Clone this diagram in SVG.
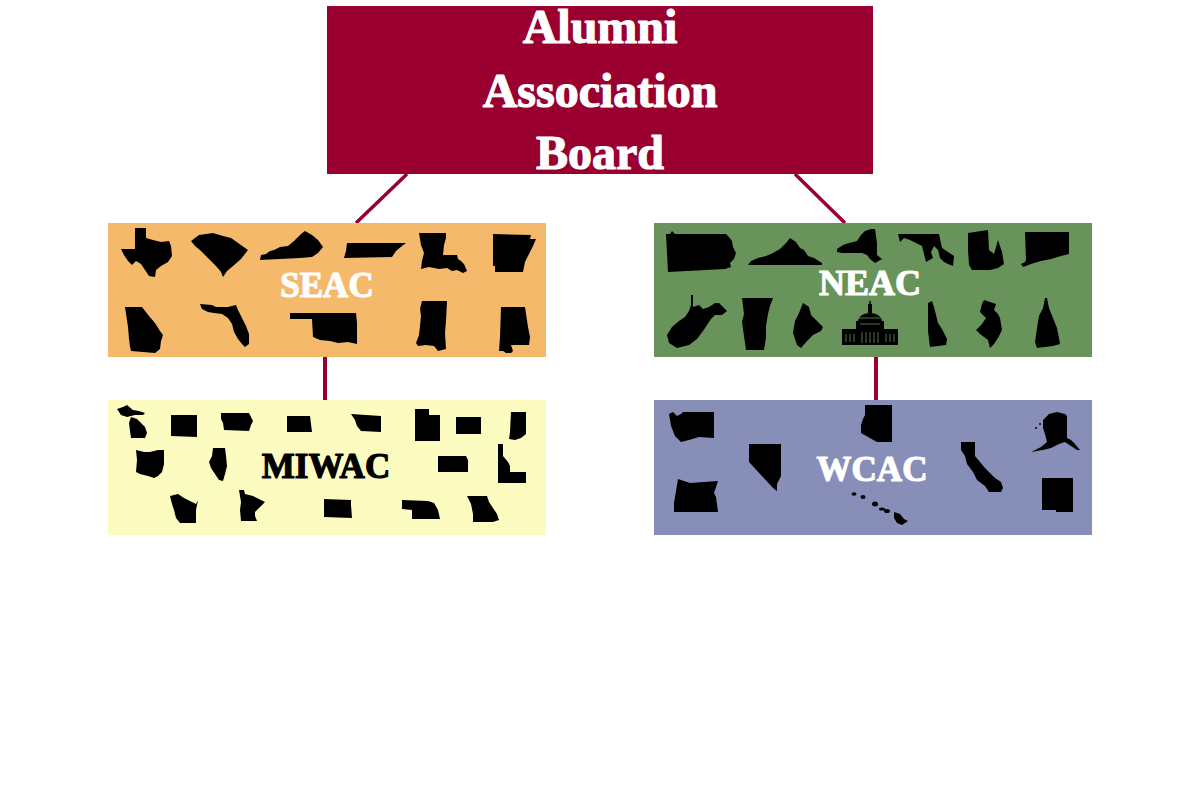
<svg xmlns="http://www.w3.org/2000/svg" width="1200" height="800" viewBox="0 0 1200 800">
<style>
.lbl{font-family:"Liberation Serif","Times New Roman",serif;font-weight:bold;text-anchor:middle;stroke-width:1.2;stroke-linejoin:round}
.w{fill:#ffffff;stroke:#ffffff}
.b{fill:#000000;stroke:#000000}
.st{fill:#000000}
.conn{stroke:#990030;fill:none}
</style>
<rect width="1200" height="800" fill="#ffffff"/>
<g id="connectors">
<line class="conn" x1="407" y1="174" x2="356" y2="223" stroke-width="3.5"/>
<line class="conn" x1="795" y1="174" x2="845" y2="223" stroke-width="3.5"/>
<line class="conn" x1="325" y1="357" x2="325" y2="400" stroke-width="4"/>
<line class="conn" x1="876" y1="357" x2="876" y2="400" stroke-width="4"/>
</g>
<g id="board">
<rect x="327" y="6" width="546" height="168" fill="#990030"/>
<text class="lbl w" x="600" y="43" font-size="48">Alumni</text>
<text class="lbl w" x="600" y="107" font-size="48">Association</text>
<text class="lbl w" x="600" y="169" font-size="48">Board</text>
</g>
<g id="seac">
<rect x="108" y="223" width="438" height="134" fill="#F4B96B"/>
<polygon class="st" transform="translate(121,228)" points="14,0 25,0 25,10 32,12 40,14 48,13 50,18 51,28 47,34 40,38 35,42 34,49 28,48 24,42 20,36 15,33 11,37 7,33 3,27 0,21 14,21"/>
<polygon class="st" transform="translate(191,233)" points="0,8 8,2 22,0 32,3 40,5 57,17 50,26 42,33 36,38 32,44 30,39 25,33 18,26 10,18 4,13"/>
<polygon class="st" transform="translate(260,231)" points="0,29 1,24 6,23 10,20 14,19 20,16 28,15 34,10 38,6 41,3 45,0 52,4 58,9 63,16 58,22 52,26 40,27 20,28"/>
<polygon class="st" transform="translate(344,243)" points="3,0 62,0 58,3 52,8 48,14 0,15 2,8"/>
<polygon class="st" transform="translate(419,233)" points="0,0 27,0 27,5 25,12 24,22 38,22 39,26 42,28 45,31 48,38 44,40 38,37 33,38 28,35 20,36 10,34 2,36 3,28 5,20 2,12"/>
<polygon class="st" transform="translate(493,234)" points="0,0 38,1 37,5 43,5 40,12 36,20 32,28 30,38 2,38 2,32 0,32"/>
<polygon class="st" transform="translate(125,307)" points="0,0 17,0 24,9 30,16 35,24 38,28 36,34 35,42 30,46 6,44 5,40 4,32 3,20"/>
<polygon class="st" transform="translate(200,304)" points="0,0 12,1 16,3 28,3 36,1 38,6 42,14 46,22 49,30 49,40 45,43 42,40 38,35 34,28 32,20 28,14 22,10 14,9 8,8 2,5"/>
<polygon class="st" transform="translate(290,313)" points="0,0 66,0 67,10 67,31 58,29 48,30 40,28 30,27 23,24 22,6 0,6"/>
<polygon class="st" transform="translate(416,301)" points="6,0 31,0 30,20 29,32 30,48 22,50 18,45 10,44 2,45 0,42 3,34 4,25 5,15 4,8"/>
<polygon class="st" transform="translate(499,307)" points="2,0 26,0 29,20 31,30 30,38 12,38 14,44 12,46 7,46 4,44 0,44 1,30"/>
<text class="lbl w" x="327" y="297" font-size="35">SEAC</text>
</g>
<g id="neac">
<rect x="654" y="223" width="438" height="134" fill="#68935A"/>
<polygon class="st" transform="translate(666,231)" points="0,3 4,3 6,0 9,3 60,3 63,6 66,10 67,16 70,22 68,28 64,32 65,36 59,38 2,41"/>
<polygon class="st" transform="translate(748,238)" points="0,27 3,23 10,20 18,18 25,15 32,11 38,5 42,0 48,4 52,10 56,12 60,18 66,20 74,25 74,27"/>
<polygon class="st" transform="translate(837,229)" points="0,20 6,16 12,14 20,12 24,6 28,2 34,0 38,0 40,14 40,26 45,30 38,34 33,30 30,26 25,24 5,24 0,23"/>
<polygon class="st" transform="translate(898,234)" points="0,0 41,0 44,14 50,18 56,22 55,32 50,30 46,28 42,24 40,16 36,12 33,18 35,24 28,28 26,20 24,12 20,10 12,6 6,4 2,8"/>
<polygon class="st" transform="translate(968,230)" points="0,3 20,0 21,20 26,24 30,10 34,22 36,34 30,38 22,40 4,40 1,35 0,20"/>
<polygon class="st" transform="translate(1021,232)" points="4,0 48,0 48,22 40,24 30,27 20,29 10,32 2,35 0,32 4,30 5,28"/>
<polygon class="st" transform="translate(667,295)" points="24,0 26,0 26,12 32,10 36,14 42,12 48,8 52,8 56,12 60,16 55,20 48,20 44,24 40,30 36,36 30,44 22,50 10,53 2,48 0,40 5,32 12,26 18,22 22,16 24,10"/>
<polygon class="st" transform="translate(742,298)" points="0,0 31,0 28,8 26,16 24,28 24,40 22,52 4,52 2,38 0,24 2,16"/>
<polygon class="st" transform="translate(793,303)" points="10,0 16,4 18,12 22,16 26,20 30,24 28,28 20,32 14,38 8,45 4,42 0,30 2,18 6,10"/>
<g transform="translate(842,301)">
<rect class="st" x="0" y="28" width="56" height="16"/>
<rect class="st" x="14" y="20" width="28" height="10"/>
<path class="st" d="M16,21 C16,9 40,9 40,21 Z"/>
<rect class="st" x="26" y="3" width="4" height="9"/>
<rect class="st" x="27.3" y="0" width="1.4" height="4"/>
<g stroke="#68935A" stroke-width="0.8">
<line x1="4" y1="33" x2="4" y2="41"/><line x1="8" y1="33" x2="8" y2="41"/><line x1="12" y1="33" x2="12" y2="41"/>
<line x1="44" y1="33" x2="44" y2="41"/><line x1="48" y1="33" x2="48" y2="41"/><line x1="52" y1="33" x2="52" y2="41"/>
<line x1="20" y1="31" x2="20" y2="42"/><line x1="24" y1="31" x2="24" y2="42"/><line x1="28" y1="31" x2="28" y2="42"/><line x1="32" y1="31" x2="32" y2="42"/><line x1="36" y1="31" x2="36" y2="42"/>
<line x1="18" y1="23" x2="38" y2="23"/><line x1="17" y1="17" x2="39" y2="17"/>
</g>
</g>
<polygon class="st" transform="translate(928,301)" points="0,2 4,0 6,6 8,14 10,22 14,28 19,38 18,44 2,46 0,30"/>
<polygon class="st" transform="translate(976,300)" points="8,0 20,4 18,10 22,14 24,18 26,30 22,38 18,44 14,48 12,40 4,34 0,30 6,24 10,18 4,12 6,4"/>
<polygon class="st" transform="translate(1033,298)" points="12,0 14,0 16,10 20,20 24,30 26,40 27,46 20,48 4,50 2,44 4,30 6,18 10,10"/>
<text class="lbl w" x="870" y="295" font-size="36">NEAC</text>
</g>
<g id="miwac">
<rect x="108" y="400" width="438" height="135" fill="#FCFBC0"/>
<polygon class="st" transform="translate(117,405)" points="0,4 6,2 10,0 16,5 22,6 28,8 26,10 18,10 10,12 4,10"/>
<polygon class="st" transform="translate(117,405)" points="14,12 20,14 24,18 28,22 30,28 28,33 14,33 13,26 12,18"/>
<polygon class="st" transform="translate(171,415)" points="0,0 26,0 26,22 0,21"/>
<polygon class="st" transform="translate(221,413)" points="0,0 28,0 30,4 32,8 30,12 28,18 3,17 2,10 0,6"/>
<polygon class="st" transform="translate(287,416)" points="0,0 23,0 25,16 0,16"/>
<polygon class="st" transform="translate(351,414)" points="0,0 30,2 30,18 10,17 6,12 4,6"/>
<polygon class="st" transform="translate(415,409)" points="0,0 14,0 14,6 25,6 25,32 0,32"/>
<polygon class="st" transform="translate(456,417)" points="0,0 25,0 25,17 0,17"/>
<polygon class="st" transform="translate(509,412)" points="2,0 17,0 17,22 12,26 6,28 0,27 1,20"/>
<polygon class="st" transform="translate(136,450)" points="0,0 8,2 14,2 22,0 28,0 28,14 26,22 22,26 18,28 12,26 4,24 0,22 1,10"/>
<polygon class="st" transform="translate(209,448)" points="4,0 16,0 17,8 18,18 16,26 14,33 10,32 6,26 2,20 0,14 3,8"/>
<polygon class="st" transform="translate(438,456)" points="0,0 28,0 30,4 30,16 0,16"/>
<polygon class="st" transform="translate(498,444)" points="0,0 5,0 5,12 10,18 12,22 12,28 28,28 28,39 0,39"/>
<polygon class="st" transform="translate(170,494)" points="0,2 8,0 14,4 22,8 26,10 28,6 26,16 26,29 10,29 6,24 4,16 2,10"/>
<polygon class="st" transform="translate(239,490)" points="0,0 5,0 6,4 14,6 22,10 26,12 20,18 16,22 16,26 18,31 2,31 1,20 2,12"/>
<polygon class="st" transform="translate(324,499)" points="0,0 27,1 27,6 28,19 0,18"/>
<polygon class="st" transform="translate(402,500)" points="0,0 26,1 32,3 36,10 38,19 10,19 10,10 0,9"/>
<polygon class="st" transform="translate(467,496)" points="0,0 20,0 22,6 26,12 30,18 32,24 26,26 6,26 6,18 4,8"/>
<text class="lbl b" x="326" y="478" font-size="35">MIWAC</text>
</g>
<g id="wcac">
<rect x="654" y="400" width="438" height="135" fill="#878EB8"/>
<polygon class="st" transform="translate(669,412)" points="0,2 4,0 8,4 12,2 14,0 45,0 45,26 30,25 20,28 12,30 6,24 2,14"/>
<polygon class="st" transform="translate(749,444)" points="0,0 32,0 32,32 30,36 28,40 28,47 24,44 0,18"/>
<polygon class="st" transform="translate(861,405)" points="4,0 31,0 31,37 16,37 0,28 0,20 2,14 4,10"/>
<polygon class="st" transform="translate(1031,412)" points="12,8 18,2 26,0 34,2 36,4 36,26 40,28 44,32 49,38 46,38 40,34 34,30 28,32 20,36 12,38 0,40 10,35 16,30 14,22 12,16"/>
<circle class="st" cx="1036" cy="428" r="1"/><circle class="st" cx="1040" cy="424" r="1"/>
<polygon class="st" transform="translate(674,479)" points="4,0 10,2 16,4 44,2 42,8 40,14 42,18 44,33 0,33 0,24 2,12"/>
<polygon class="st" transform="translate(961,442)" points="0,0 14,0 14,14 24,26 34,36 40,40 42,46 40,50 28,50 24,44 16,38 12,30 6,22 4,14 0,8"/>
<ellipse class="st" cx="854" cy="494" rx="2.5" ry="1.8"/>
<ellipse class="st" cx="863" cy="497" rx="2.5" ry="2"/>
<ellipse class="st" cx="875" cy="504" rx="3" ry="2.5"/>
<ellipse class="st" cx="882" cy="509" rx="3" ry="1.5"/>
<ellipse class="st" cx="887" cy="511" rx="3" ry="2"/>
<polygon class="st" points="894,512 900,514 904,519 908,521 902,525 897,523 894,518"/>
<polygon class="st" transform="translate(1042,478)" points="0,0 31,0 31,34 14,34 14,32 0,32"/>
<text class="lbl w" x="872" y="481" font-size="35">WCAC</text>
</g>
</svg>
